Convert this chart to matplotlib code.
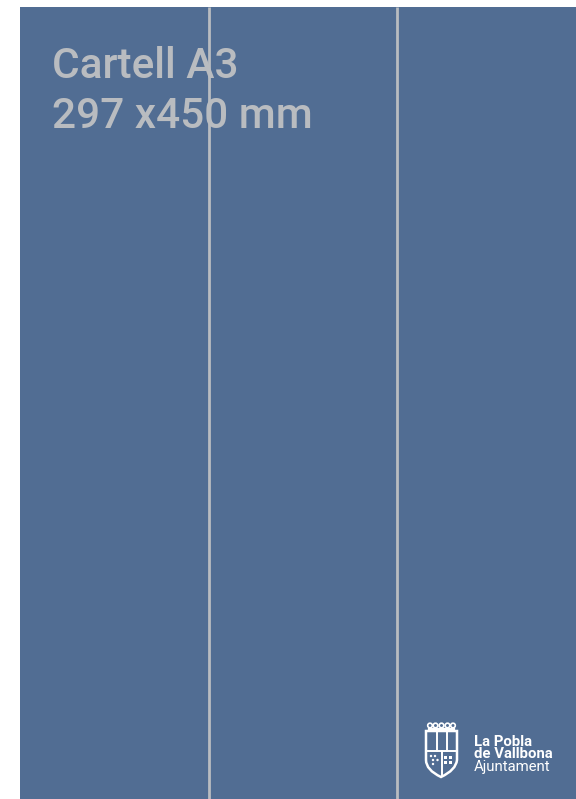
"""Poster template: Cartell A3"""

import matplotlib
matplotlib.use("Agg")
from matplotlib import pyplot as plt
from matplotlib.patches import Rectangle, PathPatch, Circle
from matplotlib.path import Path

W, H = 576, 799

# poster content
title_lines = ["Cartell A3", "297 x450 mm"]
guide_x = [209, 397]
logo_lines = ["La Pobla", "de Vallbona", "Ajuntament"]

BLUE = "#516d93"
GREY = "#b9bcc0"

fig = plt.figure(figsize=(W / 100, H / 100), dpi=100)
ax = fig.add_axes([0, 0, 1, 1])
ax.set_xlim(0, W)
ax.set_ylim(H, 0)
ax.axis("off")

# background panel
ax.add_patch(Rectangle((20, 7), W - 20, H - 7, facecolor=BLUE, edgecolor="none"))

# column guides
for gx in guide_x:
    ax.plot([gx, gx], [7, H], color=GREY, linewidth=2, solid_capstyle="butt")

# title
for i, line in enumerate(title_lines):
    ax.text(52, 78 + i * 50, line, fontsize=30.5, family="Roboto", weight="medium",
            color=GREY, ha="left", va="baseline")

# shield
verts = [(426, 731), (457, 731), (457, 760), (456, 770), (441, 777),
         (426, 770), (426, 760), (426, 731)]
codes = [Path.MOVETO, Path.LINETO, Path.LINETO, Path.CURVE3, Path.CURVE3,
         Path.CURVE3, Path.CURVE3, Path.CLOSEPOLY]
ax.add_patch(PathPatch(Path(verts, codes), facecolor="none", edgecolor="white", linewidth=1.8))
for sx in (436.5, 446.5):
    ax.plot([sx, sx], [731, 751], color="white", linewidth=1.4)
ax.plot([426, 457], [751, 751], color="white", linewidth=1.4)
ax.plot([441.5, 441.5], [751, 775], color="white", linewidth=1.4)

# crown
ax.plot([429, 454], [729, 729], color="white", linewidth=1.6)
for cx in (430, 435.5, 441.5, 447.5, 453):
    ax.add_patch(Circle((cx, 725.5), 2.3, facecolor="none", edgecolor="white", linewidth=1.2))

# little charges in the shield
for px, py in [(431, 756), (435, 756), (433, 760), (433, 764), (437.5, 760)]:
    ax.add_patch(Circle((px, py), 1.2, facecolor="white", edgecolor="none"))
for px, py in [(445, 757), (450, 757), (445, 762), (450, 762)]:
    ax.add_patch(Rectangle((px - 1.5, py - 1.5), 3.2, 3.2, facecolor="white", edgecolor="none"))

# logo text
ax.text(474, 746, logo_lines[0], fontsize=10.7, family="Roboto", weight="bold",
        color="white", ha="left", va="baseline")
ax.text(474, 758.5, logo_lines[1], fontsize=10.7, family="Roboto", weight="bold",
        color="white", ha="left", va="baseline")
ax.text(474, 771.5, logo_lines[2], fontsize=10.7, family="Roboto", weight="normal",
        color="white", ha="left", va="baseline")

fig.savefig("out.png", dpi=100, facecolor="white")
